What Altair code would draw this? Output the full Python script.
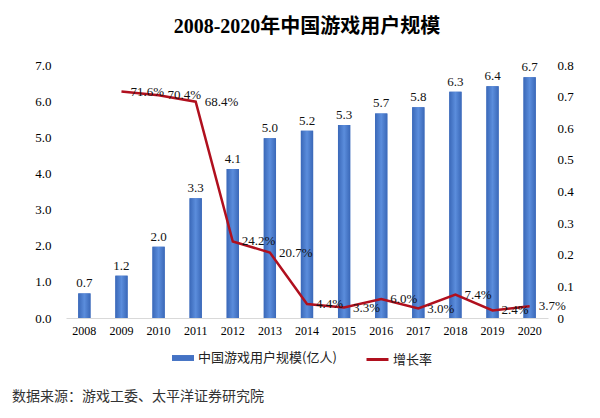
import altair as alt
import pandas as pd

years = [str(y) for y in range(2008, 2021)]
users = [0.68, 1.17, 1.97, 3.31, 4.12, 4.97, 5.18, 5.34, 5.66, 5.83, 6.26, 6.41, 6.66]
user_labels = ["0.7", "1.2", "2.0", "3.3", "4.1", "5.0", "5.2", "5.3", "5.7", "5.8", "6.3", "6.4", "6.7"]
growth = [None, 0.716, 0.704, 0.684, 0.242, 0.207, 0.044, 0.033, 0.060, 0.030, 0.074, 0.024, 0.037]
growth_labels = ["", "71.6%", "70.4%", "68.4%", "24.2%", "20.7%", "4.4%", "3.3%", "6.0%", "3.0%", "7.4%", "2.4%", "3.7%"]
left_ticks = [0, 1, 2, 3, 4, 5, 6, 7]
right_ticks = [0, 0.1, 0.2, 0.3, 0.4, 0.5, 0.6, 0.7, 0.8]
bar_name = "中国游戏用户规模(亿人)"
line_name = "增长率"
title_text = "2008-2020年中国游戏用户规模"
source_text = "数据来源：游戏工委、太平洋证券研究院"

df = pd.DataFrame({
    "year": years,
    "users": users,
    "ulab": user_labels,
    "growth": growth,
    "glab": growth_labels,
    "s1": [bar_name] * len(years),
    "s2": [line_name] * len(years),
})

SERIF = "Liberation Serif"
CJK = "Noto Sans CJK SC"
BLUE = "#4472C4"
RED = "#B0101E"

W, H = 482, 253

xaxis = alt.Axis(labelAngle=0, labelFont=SERIF, labelFontSize=12, labelColor="#000",
                 ticks=False, domainColor="#d9d9d9", labelPadding=7)
xscale = alt.Scale(paddingInner=0.67, paddingOuter=0.33)


def X():
    return alt.X("year:N", title=None, sort=years, scale=xscale, axis=xaxis)


left_axis = alt.Axis(values=left_ticks, format=".1f", grid=False, domain=False,
                     ticks=False, labelFont=SERIF, labelFontSize=13, labelColor="#000",
                     labelPadding=15)
right_axis = alt.Axis(values=right_ticks,
                      labelExpr="datum.value == 0 ? '0' : format(datum.value, '.1f')",
                      grid=False, domain=False, ticks=False, labelFont=SERIF,
                      labelFontSize=13, labelColor="#000", labelPadding=9)
left_scale = alt.Scale(domain=[0, 7], nice=False)
right_scale = alt.Scale(domain=[0, 0.8], nice=False)


def YL():
    return alt.Y("users:Q", title=None, scale=left_scale, axis=left_axis)


def YR():
    return alt.Y("growth:Q", title=None, scale=right_scale, axis=right_axis)


base = alt.Chart(df)

bar_legend = base.mark_bar().encode(
    x=X(), y=YL(),
    fill=alt.Fill("s1:N", title=None,
                  scale=alt.Scale(domain=[bar_name], range=[BLUE]),
                  legend=alt.Legend(orient="none", legendX=106, legendY=282, direction="horizontal",
                                    symbolType="M-1,-0.27H1V0.27H-1Z", symbolSize=484,
                                    symbolStrokeWidth=0, labelFont=CJK, labelFontSize=13,
                                    labelColor="#222", labelOffset=4)),
)

bar_grad = base.mark_bar(
    color=alt.Gradient(
        gradient="linear", x1=0, y1=0, x2=1, y2=0,
        stops=[alt.GradientStop(color="#3A68B8", offset=0),
               alt.GradientStop(color="#5B8DDC", offset=0.5),
               alt.GradientStop(color="#3A68B8", offset=1)])
).encode(x=X(), y=YL())

bar_text = base.mark_text(dy=-10, font=SERIF, fontSize=13, color="#111").encode(
    x=X(), y=YL(), text="ulab:N")

footnote = alt.Chart(pd.DataFrame({"t": [source_text]})).mark_text(
    align="left", baseline="middle", font=CJK, fontSize=14, color="#333"
).encode(x=alt.value(-54), y=alt.value(H + 79), text="t:N")

left = alt.layer(bar_legend, bar_grad, bar_text, footnote)

line = base.mark_line(strokeWidth=2.5).encode(
    x=X(), y=YR(),
    stroke=alt.Stroke("s2:N", title=None,
                      scale=alt.Scale(domain=[line_name], range=[RED]),
                      legend=alt.Legend(orient="none", legendX=299, legendY=282, direction="horizontal",
                                        symbolType="stroke", symbolSize=484, symbolStrokeWidth=3,
                                        labelFont=CJK, labelFontSize=13, labelColor="#222",
                                        labelOffset=3)),
)

line_text = base.mark_text(align="left", baseline="middle", dx=9, font=SERIF, fontSize=13,
                           color="#111").encode(x=X(), y=YR(), text="glab:N")

right = alt.layer(line, line_text)

chart = alt.layer(left, right).resolve_scale(y="independent").properties(
    width=W, height=H,
    autosize=alt.AutoSizeParams(type="none"),
    padding={"left": 58, "top": 57, "right": 44, "bottom": 92},
    title=alt.Title(title_text, anchor="middle", font=SERIF + ", " + CJK, fontSize=20,
                    fontWeight="bold", color="#000", offset=22),
).configure_view(stroke=None)

chart.save("out.html", embed_options={"renderer": "svg", "actions": False})
